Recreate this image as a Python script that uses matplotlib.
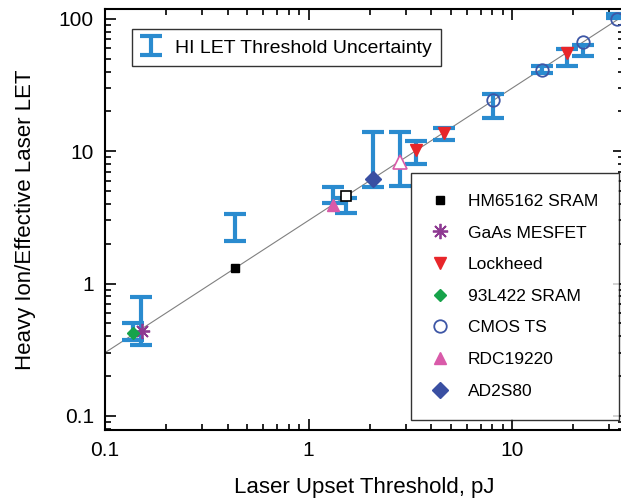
import numpy as np
import matplotlib
matplotlib.use("Agg")
import matplotlib.pyplot as plt
from matplotlib.ticker import NullFormatter

plt.rcParams['font.family'] = ['Liberation Sans', 'DejaVu Sans']

# heavy ion LET threshold uncertainty bars (x, low, high)
bar_x = [0.138, 0.150, 0.433, 1.32, 1.52, 2.08, 2.83, 3.39, 4.64, 8.07, 14.1, 18.6, 22.2, 32.8]
bar_lo = [0.377, 0.345, 2.09, 4.06, 3.39, 5.37, 5.46, 8.07, 12.1, 17.7, 38.8, 44.3, 52.5, 101]
bar_hi = [0.50, 0.787, 3.33, 5.37, 4.40, 14.0, 14.1, 12.0, 15.0, 27.0, 44.0, 58.9, 63.5, 109]

# devices: laser threshold (pJ) vs effective laser LET
hm_x, hm_y = [0.433], [1.31]
hm_open_x, hm_open_y = [1.52], [4.56]
gaas_x, gaas_y = [0.152], [0.435]
lock_x, lock_y = [3.39, 4.64, 18.6], [10.2, 13.8, 55.0]
sram_x, sram_y = [0.138], [0.42]
cmos_x, cmos_y = [8.07, 14.1, 22.2, 32.9], [24.3, 41.1, 67.3, 99.5]
rdc_x, rdc_y = [1.316], [3.9]
rdc_open_x, rdc_open_y = [2.83], [8.3]
ad_x, ad_y = [2.08], [6.14]

fit_x = [0.1, 40]
fit_slope = 3.0

fig = plt.figure(figsize=(6.21, 4.99), dpi=100)
ax = fig.add_axes([0.169, 0.138, 0.836, 0.844])

fx = np.array(fit_x)
ax.plot(fx, fit_slope * fx, color='#808080', lw=0.8, zorder=1)

bx = np.array(bar_x)
lo = np.array(bar_lo)
hi = np.array(bar_hi)
mid = np.sqrt(lo * hi)
eb = ax.errorbar(bx, mid, yerr=[mid - lo, hi - mid], fmt='none', ecolor='#2a8bcf',
                 elinewidth=3, capsize=8, capthick=3, zorder=2,
                 label='HI LET Threshold Uncertainty')

h1, = ax.plot(hm_x, hm_y, 's', color='black', ms=6, zorder=3, label='HM65162 SRAM')
ax.plot(hm_open_x, hm_open_y, 's', mfc='white', mec='black', mew=1.2, ms=7, zorder=3)
h2, = ax.plot(gaas_x, gaas_y, marker=(8, 2, 0), ls='none', color='#8e3a92', mew=1.3, ms=11,
              zorder=3, label='GaAs MESFET')
h3, = ax.plot(lock_x, lock_y, 'v', color='#e8262a', ms=8, zorder=3, label='Lockheed')
h4, = ax.plot(sram_x, sram_y, 'D', color='#17a34a', ms=6, zorder=3, label='93L422 SRAM')
h5, = ax.plot(cmos_x, cmos_y, 'o', mfc='none', mec='#3d56a6', mew=1.3, ms=9, zorder=3,
              label='CMOS TS')
h6, = ax.plot(rdc_x, rdc_y, '^', color='#d95aa9', ms=8, zorder=3, label='RDC19220')
ax.plot(rdc_open_x, rdc_open_y, '^', mfc='white', mec='#d95aa9', mew=1.2, ms=10, zorder=3)
h7, = ax.plot(ad_x, ad_y, 'D', color='#3a4fa2', ms=8, zorder=3, label='AD2S80')

ax.set_xscale('log')
ax.set_yscale('log')
ax.set_xlim(0.1, 35.5)
ax.set_ylim(0.078, 119)

ax.set_xticks([0.1, 1, 10])
ax.set_xticklabels(['0.1', '1', '10'])
ax.set_yticks([0.1, 1, 10, 100])
ax.set_yticklabels(['0.1', '1', '10', '100'])
ax.xaxis.set_minor_formatter(NullFormatter())
ax.yaxis.set_minor_formatter(NullFormatter())
ax.tick_params(which='both', direction='in', top=True, right=True, labelsize=15, width=1.2)
ax.tick_params(which='major', length=8, pad=8)
ax.tick_params(which='minor', length=4)
for s in ax.spines.values():
    s.set_linewidth(1.5)

ax.set_xlabel('Laser Upset Threshold, pJ', fontsize=16, labelpad=12)
ax.set_ylabel('Heavy Ion/Effective Laser LET', fontsize=16, labelpad=16)

leg1 = ax.legend(handles=[eb], loc='upper left', bbox_to_anchor=(0.033, 0.975),
                 fontsize=14, frameon=True, fancybox=False, edgecolor='black',
                 handlelength=1.0, borderpad=0.5, handletextpad=0.7)
leg1.get_frame().set_linewidth(1.0)
ax.add_artist(leg1)

leg2 = ax.legend(handles=[h1, h2, h3, h4, h5, h6, h7], loc='lower right',
                 bbox_to_anchor=(0.99, 0.025), fontsize=12.5, frameon=True,
                 fancybox=False, edgecolor='black', handlelength=1.0,
                 labelspacing=0.95, borderpad=1.2, handletextpad=1.1, borderaxespad=0)
leg2.get_frame().set_linewidth(1.0)

fig.savefig('out.png', dpi=100)
